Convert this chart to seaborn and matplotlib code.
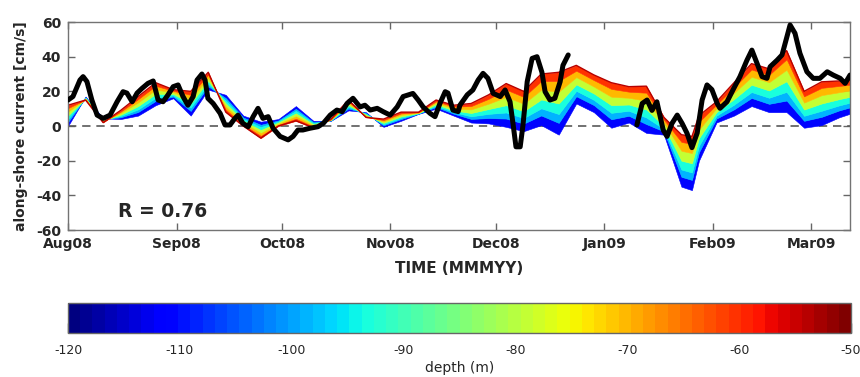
import numpy as np
import pandas as pd
import matplotlib
matplotlib.use("Agg")
import matplotlib.pyplot as plt
import matplotlib.dates as mdates
import seaborn as sns

# ---------------- data ----------------
start_date = "2008-08-01"

# model profile times (days after start) and along-shore current (cm/s) at several depths
model_day = [0, 5, 10, 15, 20, 25, 30, 35, 40, 45, 50, 55, 60, 65, 70, 75, 80, 85, 90, 95,
             100, 105, 110, 115, 120, 125, 130, 135, 140, 145, 150, 155, 160, 165, 170, 175,
             178, 180, 185, 190, 195, 200, 205, 210, 215, 220, 223]

u_115m = [0, 17, 4.5, 4, 6, 12, 16, 6, 21, 18, 6, 2.5, 4, 11.5, 3, 3, 9, 8, -0.5, 3,
          7, 10, 6, 2, 1.5, -0.5, -3, 0.5, -5, 13, 8, -1, 2, -4, -5, -35,
          -37, -20, 2, 6, 11.5, 8, 8, -1, 0.5, 5, 7]
u_111m = [2.3, 16.6, 4.0, 5.0, 8.1, 14.5, 17.0, 8.7, 22.9, 16.1, 4.9, 0.7, 3.2, 9.9, 2.2, 3.2, 10.1, 7.4, 0.4, 4.0,
          7.2, 11.0, 7.1, 4.1, 4.6, 4.3, 1.4, 6.1, 1.8, 17.2, 12.1, 3.9, 5.9, 1.1, -3.1, -29.3,
          -31.1, -15.1, 4.3, 9.6, 16.2, 12.8, 14.7, 3.0, 5.3, 9.0, 10.7]
u_99m = [4.0, 16.3, 3.7, 5.7, 9.6, 16.3, 17.7, 10.6, 24.3, 14.7, 4.0, -0.6, 2.7, 8.7, 1.7, 3.3, 11.0, 7.0, 1.0, 4.7,
         7.3, 11.7, 8.0, 5.6, 7.0, 7.8, 4.6, 10.2, 6.9, 20.3, 15.1, 7.6, 8.8, 4.9, -1.7, -25.1,
         -26.8, -11.4, 6.0, 12.3, 19.6, 16.3, 19.7, 5.9, 8.8, 11.9, 13.4]
u_93m = [6.0, 16.0, 3.3, 6.5, 11.5, 18.5, 18.5, 13.0, 26.0, 13.0, 3.0, -2.3, 2.0, 7.3, 1.0, 3.5, 12.0, 6.5, 1.8, 5.5,
         7.5, 12.5, 9.0, 7.5, 9.8, 12.0, 8.5, 15.3, 13.0, 24.0, 18.8, 12.0, 12.4, 9.5, 0.0, -20.0,
         -21.5, -7.0, 8.0, 15.5, 23.8, 20.5, 25.8, 9.5, 13.0, 15.5, 16.8]
u_79m = [8.3, 15.6, 2.8, 7.5, 13.6, 21.0, 19.5, 15.7, 27.9, 11.1, 1.9, -4.1, 1.2, 5.6, 0.2, 3.7, 13.1, 5.9, 2.6, 6.5,
         7.7, 13.5, 10.1, 9.6, 12.9, 16.8, 12.9, 20.9, 19.8, 28.2, 22.8, 16.9, 16.3, 14.6, 1.9, -14.3,
         -15.6, -2.1, 10.3, 19.1, 28.4, 25.3, 32.5, 13.5, 17.8, 19.5, 20.5]
u_70m = [10.3, 15.3, 2.4, 8.3, 15.5, 23.2, 20.3, 18.0, 29.6, 9.4, 0.8, -5.7, 0.6, 4.2, -0.4, 3.9, 14.2, 5.4, 3.4, 7.3,
         7.9, 14.3, 11.2, 11.5, 15.7, 21.0, 16.8, 25.9, 26.0, 31.9, 26.5, 21.4, 19.8, 19.2, 3.6, -9.2,
         -10.3, 2.4, 12.3, 22.3, 32.6, 29.5, 38.5, 17.1, 22.0, 23.1, 23.8]
u_60m = [12, 15, 2, 9, 17, 25, 21, 20, 31, 8, 0, -7, 0, 3, -1, 4, 15, 5, 4, 8,
         8, 15, 12, 13, 18, 24.5, 20, 30, 31, 35, 29.5, 25, 22.7, 23, 5, -5,
         -6, 6, 14, 25, 36, 33, 43.5, 20, 25.5, 26, 26.5]
curve_depths = [-115, -111, -99, -93, -79, -70, -60]
top_line_depth = -54

# observed along-shore current (two segments, gap in between)
obs1_day = [0, 1.4, 3.4, 4.3, 5.4, 6.8, 8.3, 10, 12, 14, 15.7, 16.8, 18.3, 19.7, 21.1, 22.8, 24.3,
            25.7, 27.1, 28.5, 30, 31.4, 32.8, 34.2, 35.7, 36.8, 38.2, 39.1, 39.9, 41.4, 43.4,
            44.8, 46.2, 47.6, 48.5, 49.9, 51.4, 52.8, 54.2, 55.6, 57.1, 58.5, 60.5, 62.8, 64.2,
            65.6, 67, 69, 71.3, 72.8, 74.8, 76.7, 78.2, 79.6, 81.3, 83.3, 84.7, 86.2, 88.2,
            89.9, 91.9, 93.9, 95.6, 97, 98.4, 99.9, 101.3, 103.3, 104.7, 106.1, 107.6, 108.4,
            109.8, 111.3, 111.8, 113.9, 115.5, 117, 118.4, 119.8, 121.3, 123.3, 124.7, 126.1,
            127, 127.8, 129, 129.8, 131, 132.4, 133.8, 135.2, 136.1, 137.5, 138.9, 140.4, 141.2, 142.7]
obs1_u = [15, 17, 26.5, 28.5, 25.6, 15, 6.3, 4.4, 6.3, 14, 19.8, 19, 14, 19, 21.7, 24.6, 26,
          15, 14, 17.9, 22.7, 23.7, 17, 12, 17, 26.5, 30, 26.5, 16, 13, 7.3,
          0.6, 0.6, 4.4, 6.3, 1.5, -0.4, 5.4, 10.2, 4.4, 5.4, -1.3, -6, -8, -6,
          -2.3, -2.3, -1.3, -0.4, 1.5, 6.3, 9.2, 8.3, 13, 16, 11, 12, 9.2, 10.2,
          8.3, 6.3, 11, 17, 17.9, 18.8, 15, 11, 7.3, 5.4, 13, 19.8, 19,
          9.2, 8.3, 12, 18, 20.8, 26.5, 30.4, 27.5, 18.8, 17, 20.8, 14,
          0.6, -12, -12, 0.6, 25.6, 39, 40, 31, 19.8, 15, 16, 25.6, 35, 41]
obs2_day = [162.3, 163.8, 165.2, 166.6, 168, 169.8, 170.9, 172.3, 173.8, 175.2, 176.6, 178,
            179.5, 180.9, 182.3, 183.7, 185.2, 186, 188, 189.7, 191.7, 193.7, 195.1, 196.6,
            198, 199.4, 200.3, 202.3, 203.7, 205.1, 206, 207.4, 208.8, 210.8, 212.6, 214.5,
            216.6, 218.3, 220.3, 221.7, 223.1]
obs2_u = [0.6, 13, 15, 9, 14, -2.3, -6, 1.5, 6.3, 1.5, -4.2, -12.5,
          -4, 15, 23.7, 21, 13, 10.2, 14, 20.8, 28.5, 38, 43.8, 36,
          28.5, 27.5, 34.2, 38, 41, 51.5, 58.3, 53.5, 42, 31.3, 27.5, 27.5,
          31.3, 29.4, 27.5, 24.6, 29.4]

r_text = "R = 0.76"
y_ticks = [-60, -40, -20, 0, 20, 40, 60]
cbar_ticks = [-120, -110, -100, -90, -80, -70, -60, -50]

# ---------------- plotting ----------------
sns.set_style("white")
plt.rcParams['font.family'] = ['DejaVu Sans']
plt.rcParams['axes.unicode_minus'] = False

t0 = pd.Timestamp(start_date)
model_dates = t0 + pd.to_timedelta(model_day, unit="D")

obs_df = pd.DataFrame({
    "date": list(t0 + pd.to_timedelta(obs1_day, unit="D")) + list(t0 + pd.to_timedelta(obs2_day, unit="D")),
    "u": obs1_u + obs2_u,
    "seg": [1] * len(obs1_u) + [2] * len(obs2_u),
})

fig = plt.figure(figsize=(8.6, 3.77), dpi=100)
ax = fig.add_axes([0.0791, 0.3899, 0.9093, 0.5517])
cax = fig.add_axes([0.0791, 0.1167, 0.9105, 0.0796])

cmap = matplotlib.colormaps["jet"].resampled(64)
norm = matplotlib.colors.Normalize(vmin=-120, vmax=-50)

ax.axhline(0, color="0.35", ls=(0, (5, 3.5)), lw=1.2, zorder=1)

curves = [u_115m, u_111m, u_99m, u_93m, u_79m, u_70m, u_60m]
for k in range(len(curves) - 1):
    col = cmap(norm(curve_depths[k + 1]))
    ax.fill_between(model_dates, curves[k], curves[k + 1], facecolor=col,
                    edgecolor=col, linewidth=0.4, zorder=2)
ax.plot(model_dates, u_60m, color=cmap(norm(top_line_depth)), lw=1.0, zorder=2)

sns.lineplot(data=obs_df, x="date", y="u", units="seg", estimator=None,
             color="black", lw=3.6, ax=ax, zorder=4, legend=False)

ax.set_xlim(t0, t0 + pd.Timedelta(days=223.1))
ax.set_ylim(-60, 60)
ax.set_yticks(y_ticks)
ax.xaxis.set_major_locator(mdates.MonthLocator())
ax.xaxis.set_major_formatter(mdates.DateFormatter("%b%y"))
ax.tick_params(direction="in", length=5, width=1, color="0.4",
               top=True, right=True, bottom=True, left=True,
               labelsize=10, pad=5)
for lab in ax.get_xticklabels() + ax.get_yticklabels():
    lab.set_fontweight("bold")
for sp in ax.spines.values():
    sp.set_color("0.45")
    sp.set_linewidth(1.0)

ax.set_ylabel("along-shore current [cm/s]", fontsize=10, fontweight="bold", labelpad=6)
ax.set_xlabel("TIME (MMMYY)", fontsize=11, fontweight="bold", labelpad=7)
ax.text(0.121, 0.087, r_text, transform=ax.transAxes, ha="center", va="center",
        fontsize=13.5, fontweight="bold")

sm = matplotlib.cm.ScalarMappable(norm=norm, cmap=cmap)
cb = fig.colorbar(sm, cax=cax, orientation="horizontal", ticks=cbar_ticks)
cb.outline.set_edgecolor("0.4")
cb.outline.set_linewidth(1.0)
cax.tick_params(direction="in", length=7, width=1, color="0.25", labelsize=9,
                bottom=True, top=False, pad=8)
cax.set_xlabel("depth (m)", fontsize=10, labelpad=3)

fig.savefig("out.png", dpi=100)
